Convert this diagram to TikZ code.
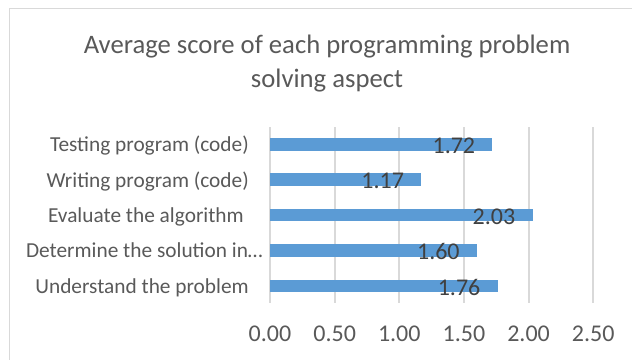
\documentclass[tikz,border=0pt]{standalone}
\usepackage{fontspec}
\setmainfont{Carlito}
\usetikzlibrary{positioning}
\definecolor{barblue}{HTML}{5B9BD5}
\definecolor{gridgray}{HTML}{D9D9D9}
\definecolor{textgray}{HTML}{595959}
\definecolor{labelgray}{HTML}{404040}
\tikzstyle{frame} = [draw=gridgray, line width=1.1]
\tikzstyle{gridline} = [draw=gridgray, line width=1.5]
\tikzstyle{bar} = [fill=barblue, draw=none]
\tikzstyle{charttitle} = [anchor=base, inner sep=0, text=textgray, font=\fontsize{20}{24}\selectfont]
\tikzstyle{category} = [anchor=base east, inner sep=0, text=textgray, font=\fontsize{16}{19}\selectfont]
\tikzstyle{ticklabel} = [anchor=base, inner sep=0, text=textgray, font=\fontsize{18}{21}\selectfont]
\tikzstyle{value} = [anchor=east, inner sep=0, text=labelgray, font=\fontsize{18}{21}\selectfont]

\begin{document}
\begin{tikzpicture}[x=0.75pt, y=-0.75pt]
                    \useasboundingbox (0, 0) rectangle (632, 360);
                    \draw [frame] (9.5, 372) -- (9.5, 8.5) -- (640, 8.5);
                    \node [charttitle] (title) at (327, 53.5) {Average score of each programming problem};
                    \node [charttitle] (titlerest) at (327, 87.5) {solving aspect};
                    \draw [gridline] (270, 127) -- (270, 302.7);
                    \draw [gridline] (334.65, 127) -- (334.65, 302.7);
                    \draw [gridline] (399.3, 127) -- (399.3, 302.7);
                    \draw [gridline] (463.95, 127) -- (463.95, 302.7);
                    \draw [gridline] (528.6, 127) -- (528.6, 302.7);
                    \draw [gridline] (593.25, 127) -- (593.25, 302.7);
                    \node [ticklabel] (t0) at (270, 341.7) {0.00};
                    \node [ticklabel] (t1) at (334.65, 341.7) {0.50};
                    \node [ticklabel] (t2) at (399.3, 341.7) {1.00};
                    \node [ticklabel] (t3) at (463.95, 341.7) {1.50};
                    \node [ticklabel] (t4) at (528.6, 341.7) {2.00};
                    \node [ticklabel] (t5) at (593.25, 341.7) {2.50};
                    \fill [bar] (270, 138.1) rectangle (492.4, 150.5);
                    \node [category] (testing) at (249, 151.7) {Testing program (code)};
                    \node [value] (vtesting) at (475.4, 145.8) {1.72};
                    \fill [bar] (270, 173.45) rectangle (421.3, 185.85);
                    \node [category] (writing) at (249, 187.05) {Writing program (code)};
                    \node [value] (vwriting) at (404.3, 181.15) {1.17};
                    \fill [bar] (270, 208.8) rectangle (532.5, 221.2);
                    \node [category] (evaluate) at (244, 222.4) {Evaluate the algorithm};
                    \node [value] (vevaluate) at (515.5, 216.5) {2.03};
                    \fill [bar] (270, 244.15) rectangle (476.9, 256.55);
                    \node [category] (determine) at (263, 257.75) {Determine the solution in…};
                    \node [value] (vdetermine) at (459.9, 251.85) {1.60};
                    \fill [bar] (270, 279.5) rectangle (497.6, 291.9);
                    \node [category] (understand) at (249, 293.1) {Understand the problem};
                    \node [value] (vunderstand) at (480.6, 287.2) {1.76};
                \end{tikzpicture}
\end{document}
